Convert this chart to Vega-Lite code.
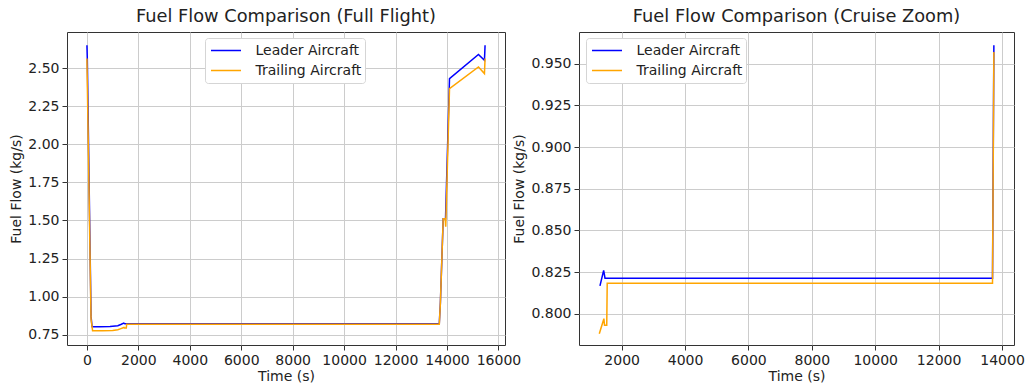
{
  "$schema": "https://vega.github.io/schema/vega-lite/v6.json",
  "autosize": {"type": "pad"},
  "padding": {"left": 9, "top": 7, "right": 5, "bottom": 5},
  "spacing": 74,
  "bounds": "flush",
  "background": "white",
  "config": {
    "font": "DejaVu Sans",
    "view": {"stroke": "#333333", "strokeWidth": 1},
    "axis": {
      "domain": false, "grid": true, "gridColor": "#cccccc", "gridWidth": 1,
      "tickColor": "#333333", "tickSize": 5, "labelFontSize": 14, "labelColor": "#222222",
      "titleFontSize": 14, "titleFontWeight": "normal", "titleColor": "#222222", "labelPadding": 3
    },
    "title": {"fontSize": 17.8, "fontWeight": "normal", "offset": 6, "color": "#222222"},
    "legend": {
      "symbolType": "stroke", "symbolSize": 900, "symbolStrokeWidth": 1.5,
      "labelFontSize": 14, "labelColor": "#222222", "padding": 3.5,
      "strokeColor": "#d5d5d5", "fillColor": "white", "cornerRadius": 3,
      "clipHeight": 18, "rowPadding": 2, "symbolOffset": 1.5, "labelOffset": 13.5
    }
  },
  "datasets": {
    "fuel": [
      {"t": 0, "flow": 2.651, "aircraft": "Leader Aircraft"},
      {"t": 15, "flow": 2.56, "aircraft": "Leader Aircraft"},
      {"t": 160, "flow": 0.87, "aircraft": "Leader Aircraft"},
      {"t": 200, "flow": 0.802, "aircraft": "Leader Aircraft"},
      {"t": 500, "flow": 0.802, "aircraft": "Leader Aircraft"},
      {"t": 900, "flow": 0.804, "aircraft": "Leader Aircraft"},
      {"t": 1200, "flow": 0.809, "aircraft": "Leader Aircraft"},
      {"t": 1316, "flow": 0.8167, "aircraft": "Leader Aircraft"},
      {"t": 1433, "flow": 0.826, "aircraft": "Leader Aircraft"},
      {"t": 1475, "flow": 0.8213, "aircraft": "Leader Aircraft"},
      {"t": 13700, "flow": 0.8213, "aircraft": "Leader Aircraft"},
      {"t": 13743, "flow": 0.961, "aircraft": "Leader Aircraft"},
      {"t": 13852, "flow": 1.511, "aircraft": "Leader Aircraft"},
      {"t": 13942, "flow": 1.511, "aircraft": "Leader Aircraft"},
      {"t": 14097, "flow": 2.432, "aircraft": "Leader Aircraft"},
      {"t": 15223, "flow": 2.59, "aircraft": "Leader Aircraft"},
      {"t": 15456, "flow": 2.552, "aircraft": "Leader Aircraft"},
      {"t": 15480, "flow": 2.651, "aircraft": "Leader Aircraft"},
      {"t": 0, "flow": 2.564, "aircraft": "Trailing Aircraft"},
      {"t": 160, "flow": 0.85, "aircraft": "Trailing Aircraft"},
      {"t": 220, "flow": 0.776, "aircraft": "Trailing Aircraft"},
      {"t": 600, "flow": 0.775, "aircraft": "Trailing Aircraft"},
      {"t": 1000, "flow": 0.778, "aircraft": "Trailing Aircraft"},
      {"t": 1200, "flow": 0.782, "aircraft": "Trailing Aircraft"},
      {"t": 1295, "flow": 0.788, "aircraft": "Trailing Aircraft"},
      {"t": 1440, "flow": 0.797, "aircraft": "Trailing Aircraft"},
      {"t": 1460, "flow": 0.793, "aircraft": "Trailing Aircraft"},
      {"t": 1530, "flow": 0.793, "aircraft": "Trailing Aircraft"},
      {"t": 1545, "flow": 0.8183, "aircraft": "Trailing Aircraft"},
      {"t": 13700, "flow": 0.8183, "aircraft": "Trailing Aircraft"},
      {"t": 13743, "flow": 0.957, "aircraft": "Trailing Aircraft"},
      {"t": 13852, "flow": 1.511, "aircraft": "Trailing Aircraft"},
      {"t": 13930, "flow": 1.511, "aircraft": "Trailing Aircraft"},
      {"t": 13950, "flow": 1.459, "aircraft": "Trailing Aircraft"},
      {"t": 14097, "flow": 2.366, "aircraft": "Trailing Aircraft"},
      {"t": 15223, "flow": 2.508, "aircraft": "Trailing Aircraft"},
      {"t": 15456, "flow": 2.465, "aircraft": "Trailing Aircraft"},
      {"t": 15480, "flow": 2.564, "aircraft": "Trailing Aircraft"}
    ]
  },
  "resolve": {"legend": {"color": "independent"}},
  "hconcat": [
    {
      "width": 438, "height": 313,
      "title": "Fuel Flow Comparison (Full Flight)",
      "data": {"name": "fuel"},
      "mark": {"type": "line", "strokeWidth": 1.5, "clip": true},
      "encoding": {
        "x": {"field": "t", "type": "quantitative",
          "scale": {"domain": [-775, 16255], "nice": false, "zero": false},
          "axis": {"title": "Time (s)", "values": [0, 2000, 4000, 6000, 8000, 10000, 12000, 14000, 16000], "format": "d", "titlePadding": 2}},
        "y": {"field": "flow", "type": "quantitative",
          "scale": {"domain": [0.682, 2.738], "nice": false, "zero": false},
          "axis": {"title": "Fuel Flow (kg/s)", "values": [0.75, 1.0, 1.25, 1.5, 1.75, 2.0, 2.25, 2.5], "format": ".2f", "titlePadding": 4}},
        "color": {"field": "aircraft", "type": "nominal",
          "scale": {"domain": ["Leader Aircraft", "Trailing Aircraft"], "range": ["#0000ff", "#ffa500"]},
          "legend": {"title": null, "orient": "none", "legendX": 138, "legendY": 6}}
      }
    },
    {
      "width": 435, "height": 313,
      "title": "Fuel Flow Comparison (Cruise Zoom)",
      "data": {"name": "fuel"},
      "transform": [{"filter": "datum.t >= 1290 && datum.t <= 13750"}],
      "mark": {"type": "line", "strokeWidth": 1.5, "clip": true},
      "encoding": {
        "x": {"field": "t", "type": "quantitative",
          "scale": {"domain": [655, 14378], "nice": false, "zero": false},
          "axis": {"title": "Time (s)", "values": [2000, 4000, 6000, 8000, 10000, 12000, 14000], "format": "d", "titlePadding": 2}},
        "y": {"field": "flow", "type": "quantitative",
          "scale": {"domain": [0.7812, 0.969], "nice": false, "zero": false},
          "axis": {"title": "Fuel Flow (kg/s)", "values": [0.8, 0.825, 0.85, 0.875, 0.9, 0.925, 0.95], "format": ".3f", "titlePadding": 4}},
        "color": {"field": "aircraft", "type": "nominal",
          "scale": {"domain": ["Leader Aircraft", "Trailing Aircraft"], "range": ["#0000ff", "#ffa500"]},
          "legend": {"title": null, "orient": "none", "legendX": 7, "legendY": 6}}
      }
    }
  ]
}
